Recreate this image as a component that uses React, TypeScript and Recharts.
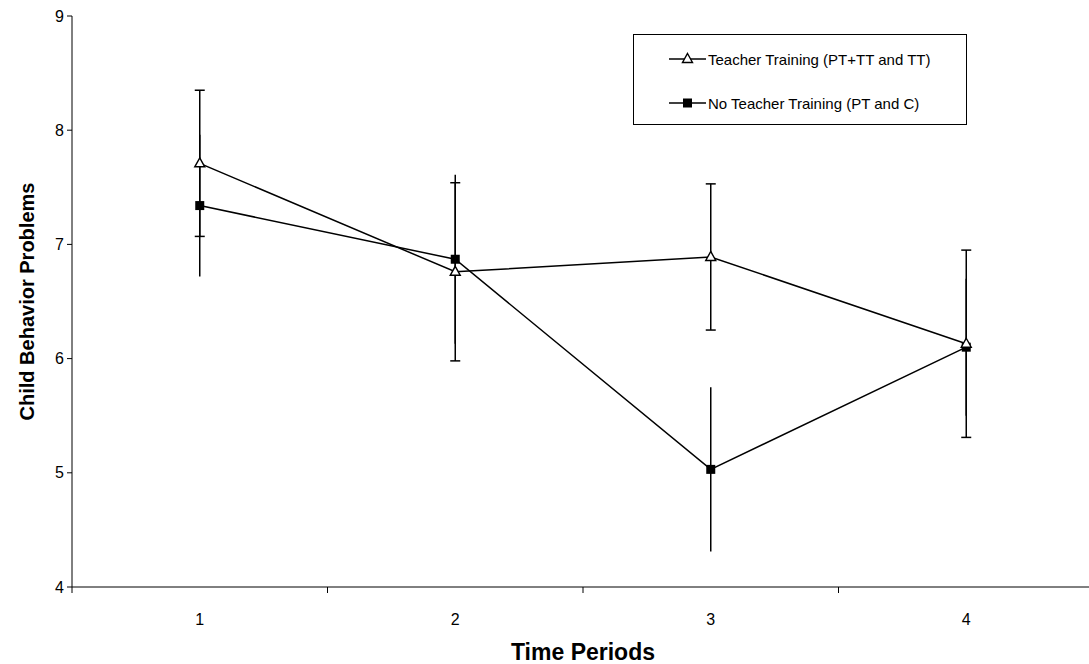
import { ErrorBar, Line, LineChart, XAxis, YAxis } from "recharts";

const periods = [1, 2, 3, 4];
const teacherMean = [7.71, 6.76, 6.89, 6.13];
const teacherErr = [0.64, 0.78, 0.64, 0.82];
const noTeacherMean = [7.34, 6.87, 5.03, 6.1];
const noTeacherErr = [0.62, 0.74, 0.72, 0.6];
const yTicks = [4, 5, 6, 7, 8, 9];
// half steps carry the tick marks, whole steps carry the labels
const xTicks = [0.5, 1, 1.5, 2, 2.5, 3, 3.5, 4, 4.5];

const TEACHER = "Teacher Training (PT+TT and TT)";
const NO_TEACHER = "No Teacher Training (PT and C)";

const data = periods.map((p, i) => ({
  period: p,
  tt: teacherMean[i],
  ttErr: teacherErr[i],
  ntt: noTeacherMean[i],
  nttErr: noTeacherErr[i],
}));

const FONT = "'Liberation Sans', Arial, sans-serif";

function Triangle({ cx, cy }: { cx: number; cy: number }) {
  return (
    <path
      d={`M${cx},${cy - 5.5} L${cx + 5},${cy + 3.5} L${cx - 5},${cy + 3.5} Z`}
      fill="#fff"
      stroke="#000"
      strokeWidth={1.4}
    />
  );
}

function Square({ cx, cy }: { cx: number; cy: number }) {
  return <rect x={cx - 4.5} y={cy - 4.5} width={9} height={9} fill="#000" />;
}

function XTick({ x, y, payload }: any) {
  const v = payload.value;
  if (Number.isInteger(v)) {
    return (
      <text x={x} y={y} dy={38} textAnchor="middle" fontSize={16} fontFamily={FONT} fill="#000">
        {v}
      </text>
    );
  }
  return <line x1={x} y1={y} x2={x} y2={y + 6} stroke="#000" strokeWidth={1} />;
}

function LegendBox() {
  const items = [
    { name: TEACHER, Marker: Triangle },
    { name: NO_TEACHER, Marker: Square },
  ];
  return (
    <div
      style={{
        position: "absolute",
        left: 633,
        top: 34,
        width: 334,
        height: 91,
        boxSizing: "border-box",
        border: "1px solid #000",
        background: "#fff",
        fontFamily: FONT,
        fontSize: 15,
        color: "#000",
        paddingTop: 13,
        paddingLeft: 35,
      }}
    >
      {items.map(({ name, Marker }) => (
        <div key={name} style={{ display: "flex", alignItems: "center", height: 22, marginBottom: 22 }}>
          <svg width={37} height={14} style={{ marginRight: 2 }}>
            <line x1={0} y1={7} x2={37} y2={7} stroke="#000" strokeWidth={1.4} />
            <Marker cx={18.5} cy={7} />
          </svg>
          <span>{name}</span>
        </div>
      ))}
    </div>
  );
}

export default function App() {
  return (
    <div style={{ position: "absolute", left: 0, top: 0, width: 1089, height: 664, background: "#fff" }}>
      <LineChart width={1089} height={664} data={data} margin={{ top: 16, right: -5, bottom: 0, left: 0 }}>
        <XAxis
          dataKey="period"
          type="number"
          domain={[0.5, 4.5]}
          ticks={xTicks}
          interval={0}
          tickLine={false}
          tickSize={0}
          tickMargin={0}
          axisLine={{ stroke: "#000", strokeWidth: 1 }}
          tick={<XTick />}
          height={77}
          label={{
            value: "Time Periods",
            position: "insideBottom",
            offset: 4,
            fontSize: 23,
            fontWeight: "bold",
            fontFamily: FONT,
            fill: "#000",
          }}
        />
        <YAxis
          type="number"
          domain={[4, 9]}
          ticks={yTicks}
          interval={0}
          width={72}
          tickSize={5}
          tickMargin={3}
          tickLine={{ stroke: "#000" }}
          axisLine={{ stroke: "#000", strokeWidth: 1 }}
          tick={{ fontSize: 16, fontFamily: FONT, fill: "#000" }}
          label={{
            content: ({ viewBox }: any) => {
              const cx = 27;
              const cy = viewBox.y + viewBox.height / 2;
              return (
                <text
                  x={cx}
                  y={cy}
                  transform={`rotate(-90 ${cx} ${cy})`}
                  textAnchor="middle"
                  dominantBaseline="central"
                  fontSize={20}
                  fontWeight="bold"
                  fontFamily={FONT}
                  fill="#000"
                >
                  Child Behavior Problems
                </text>
              );
            },
          }}
        />
        <Line
          dataKey="ntt"
          name={NO_TEACHER}
          stroke="#000"
          strokeWidth={1.5}
          isAnimationActive={false}
          activeDot={false}
          dot={(p: any) => <Square key={`s${p.index}`} cx={p.cx} cy={p.cy} />}
        >
          <ErrorBar dataKey="nttErr" width={0} stroke="#000" strokeWidth={1.5} direction="y" isAnimationActive={false} />
        </Line>
        <Line
          dataKey="tt"
          name={TEACHER}
          stroke="#000"
          strokeWidth={1.5}
          isAnimationActive={false}
          activeDot={false}
          dot={(p: any) => <Triangle key={`t${p.index}`} cx={p.cx} cy={p.cy} />}
        >
          <ErrorBar dataKey="ttErr" width={5} stroke="#000" strokeWidth={1.5} direction="y" isAnimationActive={false} />
        </Line>
      </LineChart>
      <LegendBox />
    </div>
  );
}
